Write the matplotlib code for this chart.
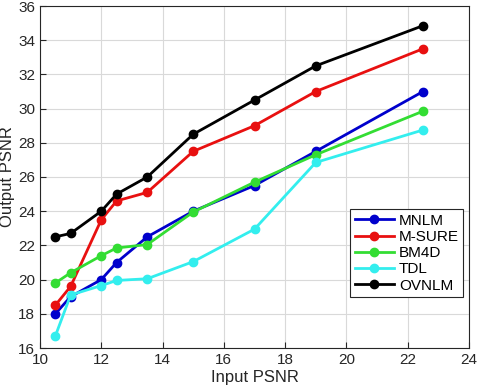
import matplotlib.pyplot as plt
import numpy as np

plt.rcParams['font.family'] = ['Liberation Sans', 'DejaVu Sans']

input_psnr = [10.5, 11, 12, 12.5, 13.5, 15, 17, 19, 22.5]

mnlm = [18.0, 19.0, 20.0, 21.0, 22.5, 24.0, 25.5, 27.5, 31.0]
msure = [18.5, 19.6, 23.5, 24.6, 25.1, 27.5, 29.0, 31.0, 33.5]
bm4d = [19.8, 20.4, 21.4, 21.85, 22.05, 23.95, 25.7, 27.3, 29.85]
tdl = [16.7, 19.1, 19.65, 19.95, 20.05, 21.05, 22.95, 26.85, 28.75]
ovnlm = [22.5, 22.7, 24.0, 25.0, 26.0, 28.5, 30.5, 32.5, 34.85]

names = ['MNLM', 'M-SURE', 'BM4D', 'TDL', 'OVNLM']
series = [mnlm, msure, bm4d, tdl, ovnlm]
colors = ['#0000cc', '#e81010', '#33dd33', '#33eeee', '#000000']

fig = plt.figure(figsize=(4.81, 3.92), dpi=100)
ax = fig.add_axes([40 / 481, 1 - 348 / 392, 429 / 481, 342 / 392])

for name, vals, c in zip(names, series, colors):
    ax.plot(input_psnr, vals, '-o', color=c, lw=2, ms=6, label=name)

ax.set_xlim(10, 24)
ax.set_ylim(16, 36)
ax.set_xticks(np.arange(10, 25, 2))
ax.set_yticks(np.arange(16, 37, 2))
ax.grid(True, color='#d9d9d9', lw=0.8)
ax.set_axisbelow(True)
ax.tick_params(labelsize=11, colors='#262626', direction='in', length=4)
for s in ax.spines.values():
    s.set_color('#262626')

ax.set_xlabel('Input PSNR', fontsize=12, color='#262626', labelpad=2)
ax.set_ylabel('Output PSNR', fontsize=12, color='#262626', labelpad=2)

leg = ax.legend(loc='upper left', bbox_to_anchor=(350 / 481, 1 - 209 / 392),
                bbox_transform=fig.transFigure, borderaxespad=0, fontsize=11,
                fancybox=False, framealpha=1, edgecolor='#262626',
                handlelength=2.6, borderpad=0.3, labelspacing=0.15,
                handletextpad=0.3)
leg.get_frame().set_linewidth(0.8)

fig.savefig('out.png', dpi=100)
